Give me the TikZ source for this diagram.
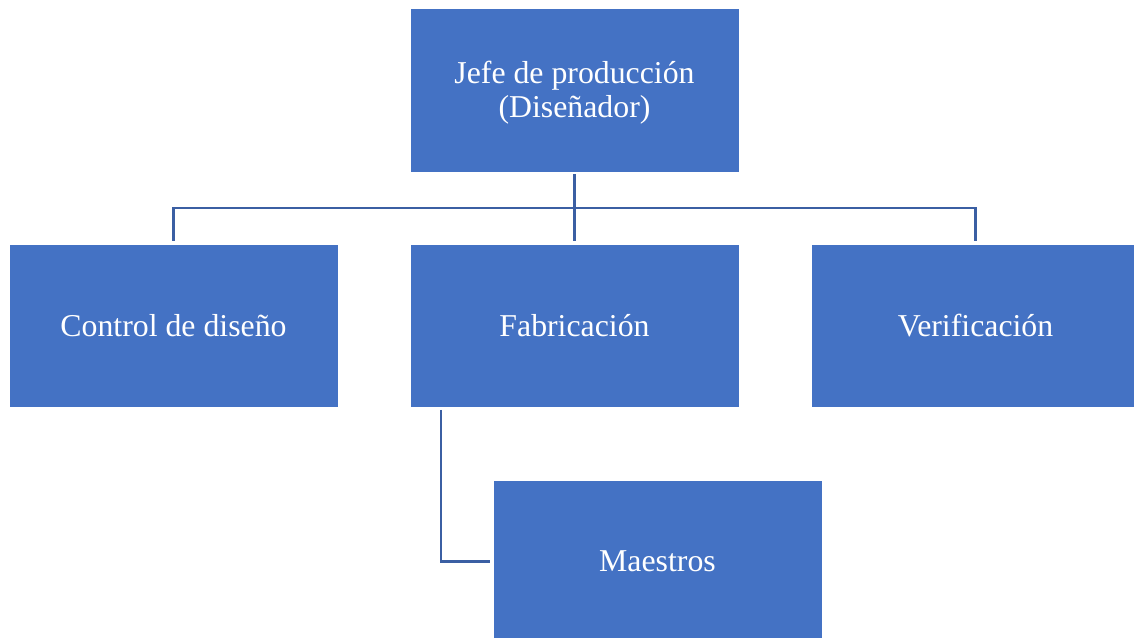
\documentclass[tikz,border=0pt]{standalone}
\usepackage{fontspec}
\setmainfont{Liberation Serif}
\definecolor{boxfill}{HTML}{4472C4}
\definecolor{linecol}{HTML}{3B5FA3}
\begin{document}
\begin{tikzpicture}[x=1pt,y=-1pt,
  orgbox/.style={rectangle, fill=boxfill, draw=white, line width=0.6pt,
    minimum width=329pt, minimum height=163pt, inner sep=0pt,
    text=white, align=center,
    font=\fontsize{31.8}{34}\selectfont},
  conn/.style={draw=linecol, line width=2.2pt, shorten <=2.5pt, shorten >=2.5pt}]
\useasboundingbox (0,0) rectangle (1134,637);
\clip (0,0) rectangle (1134,637);
\node[orgbox, minimum height=164pt] (top) at (574.5,90.5) {\rule{0pt}{27pt}Jefe de producción\\(Diseñador)};
\node[orgbox] (ctrl) at (173.5,325.5) {Control de diseño};
\node[orgbox] (fab) at (574.5,325.5) {Fabricación};
\node[orgbox] (ver) at (975.5,325.5) {Verificación};
\node[orgbox] (mae) at (657.5,561.5) {Maestros};
\coordinate (bus) at (0,208);
\draw[conn] (top.south) -- (fab.north);
\draw[conn, shorten >=0pt, line cap=rect] (top.south) -- (top.south |- bus);
\draw[conn, shorten <=0pt, line join=miter] (top.south |- bus) -| (ctrl.north);
\draw[conn, shorten <=0pt, line join=miter] (top.south |- bus) -| (ver.north);
\draw[conn, line join=miter] ([xshift=31.5pt]fab.south west) |- (mae.west);
\end{tikzpicture}
\end{document}
